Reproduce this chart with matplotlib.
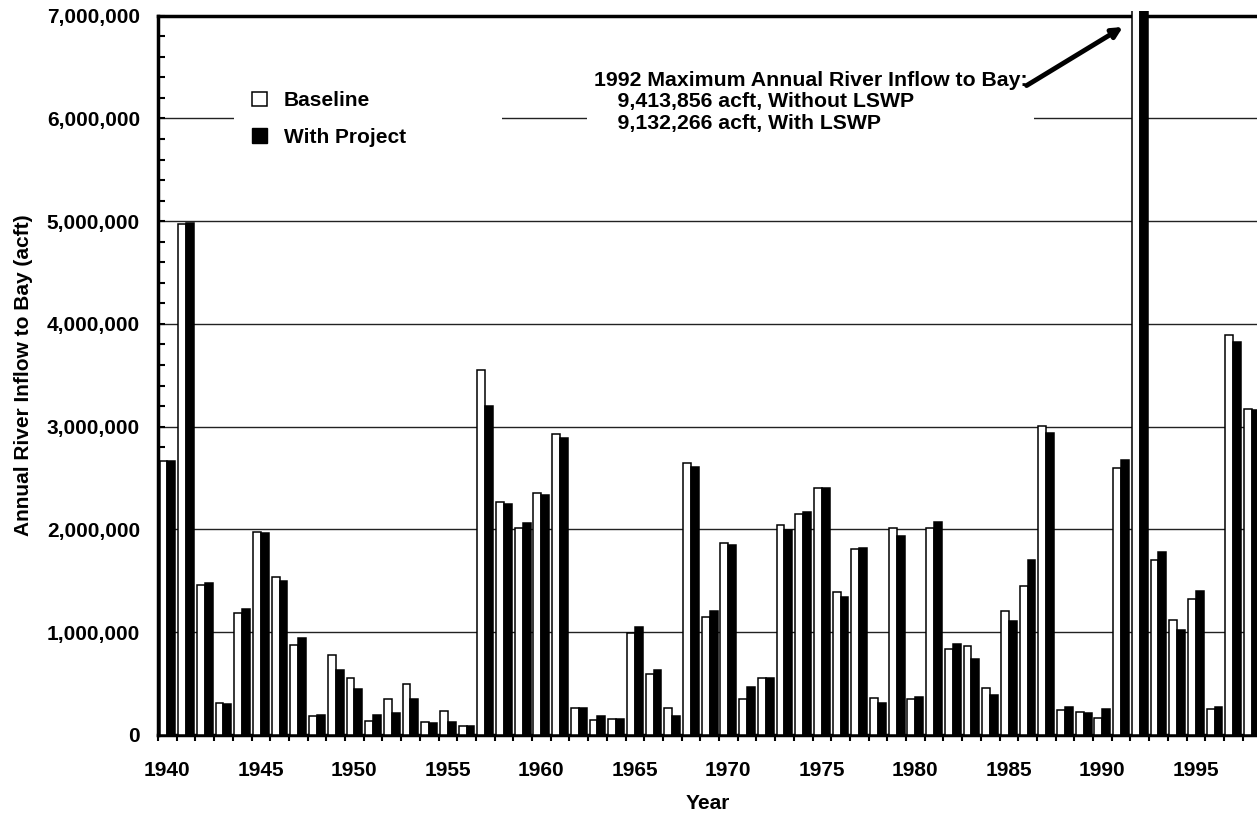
import numpy as np
import matplotlib
matplotlib.use("Agg")
import matplotlib.pyplot as plt
from matplotlib.patches import Patch, Rectangle
from matplotlib.ticker import FuncFormatter, MultipleLocator, FixedLocator

plt.rcParams['font.family'] = ['Liberation Sans', 'DejaVu Sans']
plt.rcParams['font.weight'] = 'bold'

# annual river inflow to bay (acft)
years = list(range(1940, 1999))
baseline = [
    2670000, 4970000, 1460000, 315000, 1190000, 1975000, 1540000, 873000, 180000, 780000,
    558000, 136000, 350000, 500000, 131000, 233000, 87000, 3556000, 2266000, 2010000,
    2353000, 2926000, 267000, 150000, 160000, 995000, 597000, 267000, 2649000, 1145000,
    1868000, 354000, 558000, 2043000, 2154000, 2407000, 1388000, 1810000, 359000, 2010000,
    354000, 2010000, 839000, 864000, 461000, 1203000, 1446000, 3008000, 247000, 223000,
    165000, 2600000, 9413856, 1703000, 1116000, 1320000, 252000, 3896000, 3168000,
]
with_project = [
    2670000, 4980000, 1475000, 305000, 1225000, 1965000, 1495000, 946000, 194000, 630000,
    450000, 194000, 213000, 354000, 116000, 131000, 92000, 3200000, 2246000, 2067000,
    2339000, 2892000, 267000, 184000, 155000, 1048000, 636000, 184000, 2610000, 1208000,
    1844000, 470000, 558000, 1999000, 2169000, 2407000, 1344000, 1815000, 310000, 1936000,
    374000, 2070000, 888000, 742000, 393000, 1106000, 1698000, 2935000, 277000, 218000,
    252000, 2678000, 9132266, 1776000, 1019000, 1397000, 277000, 3823000, 3159000,
]
series_labels = ["Baseline", "With Project"]
year_labels = list(range(1940, 2000, 5))
note = ("1992 Maximum Annual River Inflow to Bay:\n"
        "    9,413,856 acft, Without LSWP\n"
        "    9,132,266 acft, With LSWP")

fig = plt.figure(figsize=(12.57, 8.16), dpi=100)
ax = fig.add_axes([0.1257, 0.0993, 0.8743, 0.8815])

x = np.array(years)
w = 0.42
# let the tall 1992 bars poke just past the top frame, like the original
clip = Rectangle((0, 0), 1, 1.006, transform=ax.transAxes, visible=False)
ax.add_patch(clip)
b1 = ax.bar(x - w / 2, baseline, w, color="white", edgecolor="black", linewidth=1.1, zorder=3)
b2 = ax.bar(x + w / 2, with_project, w, color="black", edgecolor="black", linewidth=1.1, zorder=3)
for bar in list(b1) + list(b2):
    bar.set_clip_path(clip)

ax.set_xlim(1939.5, 1998.27)
ax.set_ylim(0, 7000000)

ax.yaxis.set_major_locator(MultipleLocator(1000000))
ax.yaxis.set_minor_locator(MultipleLocator(200000))
ax.yaxis.set_major_formatter(FuncFormatter(lambda v, p: f"{v:,.0f}"))
ax.tick_params(axis="y", which="both", direction="in", length=5, width=1.5, labelsize=15, pad=13)

ax.xaxis.set_major_locator(FixedLocator(year_labels))
ax.xaxis.set_minor_locator(FixedLocator(np.arange(1939.5, 1999, 1)))
ax.tick_params(axis="x", which="major", length=0, labelsize=15, pad=18.5)
ax.tick_params(axis="x", which="minor", direction="out", length=4, width=1.5)

ax.grid(axis="y", which="major", color="#222222", linewidth=1)
ax.set_axisbelow(True)

for s in ["left", "bottom", "top"]:
    ax.spines[s].set_linewidth(2.5)
ax.spines["right"].set_visible(False)

ax.set_xlabel("Year", fontsize=15, fontweight="bold", labelpad=10.5)
ax.set_ylabel("Annual River Inflow to Bay (acft)", fontsize=15, fontweight="bold", labelpad=10)

# white block behind legend
ax.add_patch(Rectangle((0.069, 0.786), 0.244, 0.135, transform=ax.transAxes,
                       facecolor="white", edgecolor="none", zorder=2))
handles = [Patch(facecolor="white", edgecolor="black", linewidth=1.1),
           Patch(facecolor="black", edgecolor="black")]
leg = ax.legend(handles, series_labels, loc="upper left", bbox_to_anchor=(0.0855, 0.895),
                frameon=False, fontsize=15, handlelength=0.72, handleheight=0.7,
                handletextpad=0.8, labelspacing=0.85, borderpad=0, borderaxespad=0)
leg.set_zorder(5)

ax.text(1962.8, 6.46e6, note, fontsize=15.3, fontweight="bold", va="top", ha="left",
        linespacing=1.15, zorder=5,
        bbox=dict(facecolor="white", edgecolor="none", pad=5))
ax.annotate("", xy=(1991.1, 6.89e6), xytext=(1985.95, 6.32e6),
            arrowprops=dict(arrowstyle="-|>,head_length=0.6,head_width=0.3", lw=3.5,
                            color="black", shrinkA=0, shrinkB=0),
            zorder=6)

fig.savefig("out.png", dpi=100)
